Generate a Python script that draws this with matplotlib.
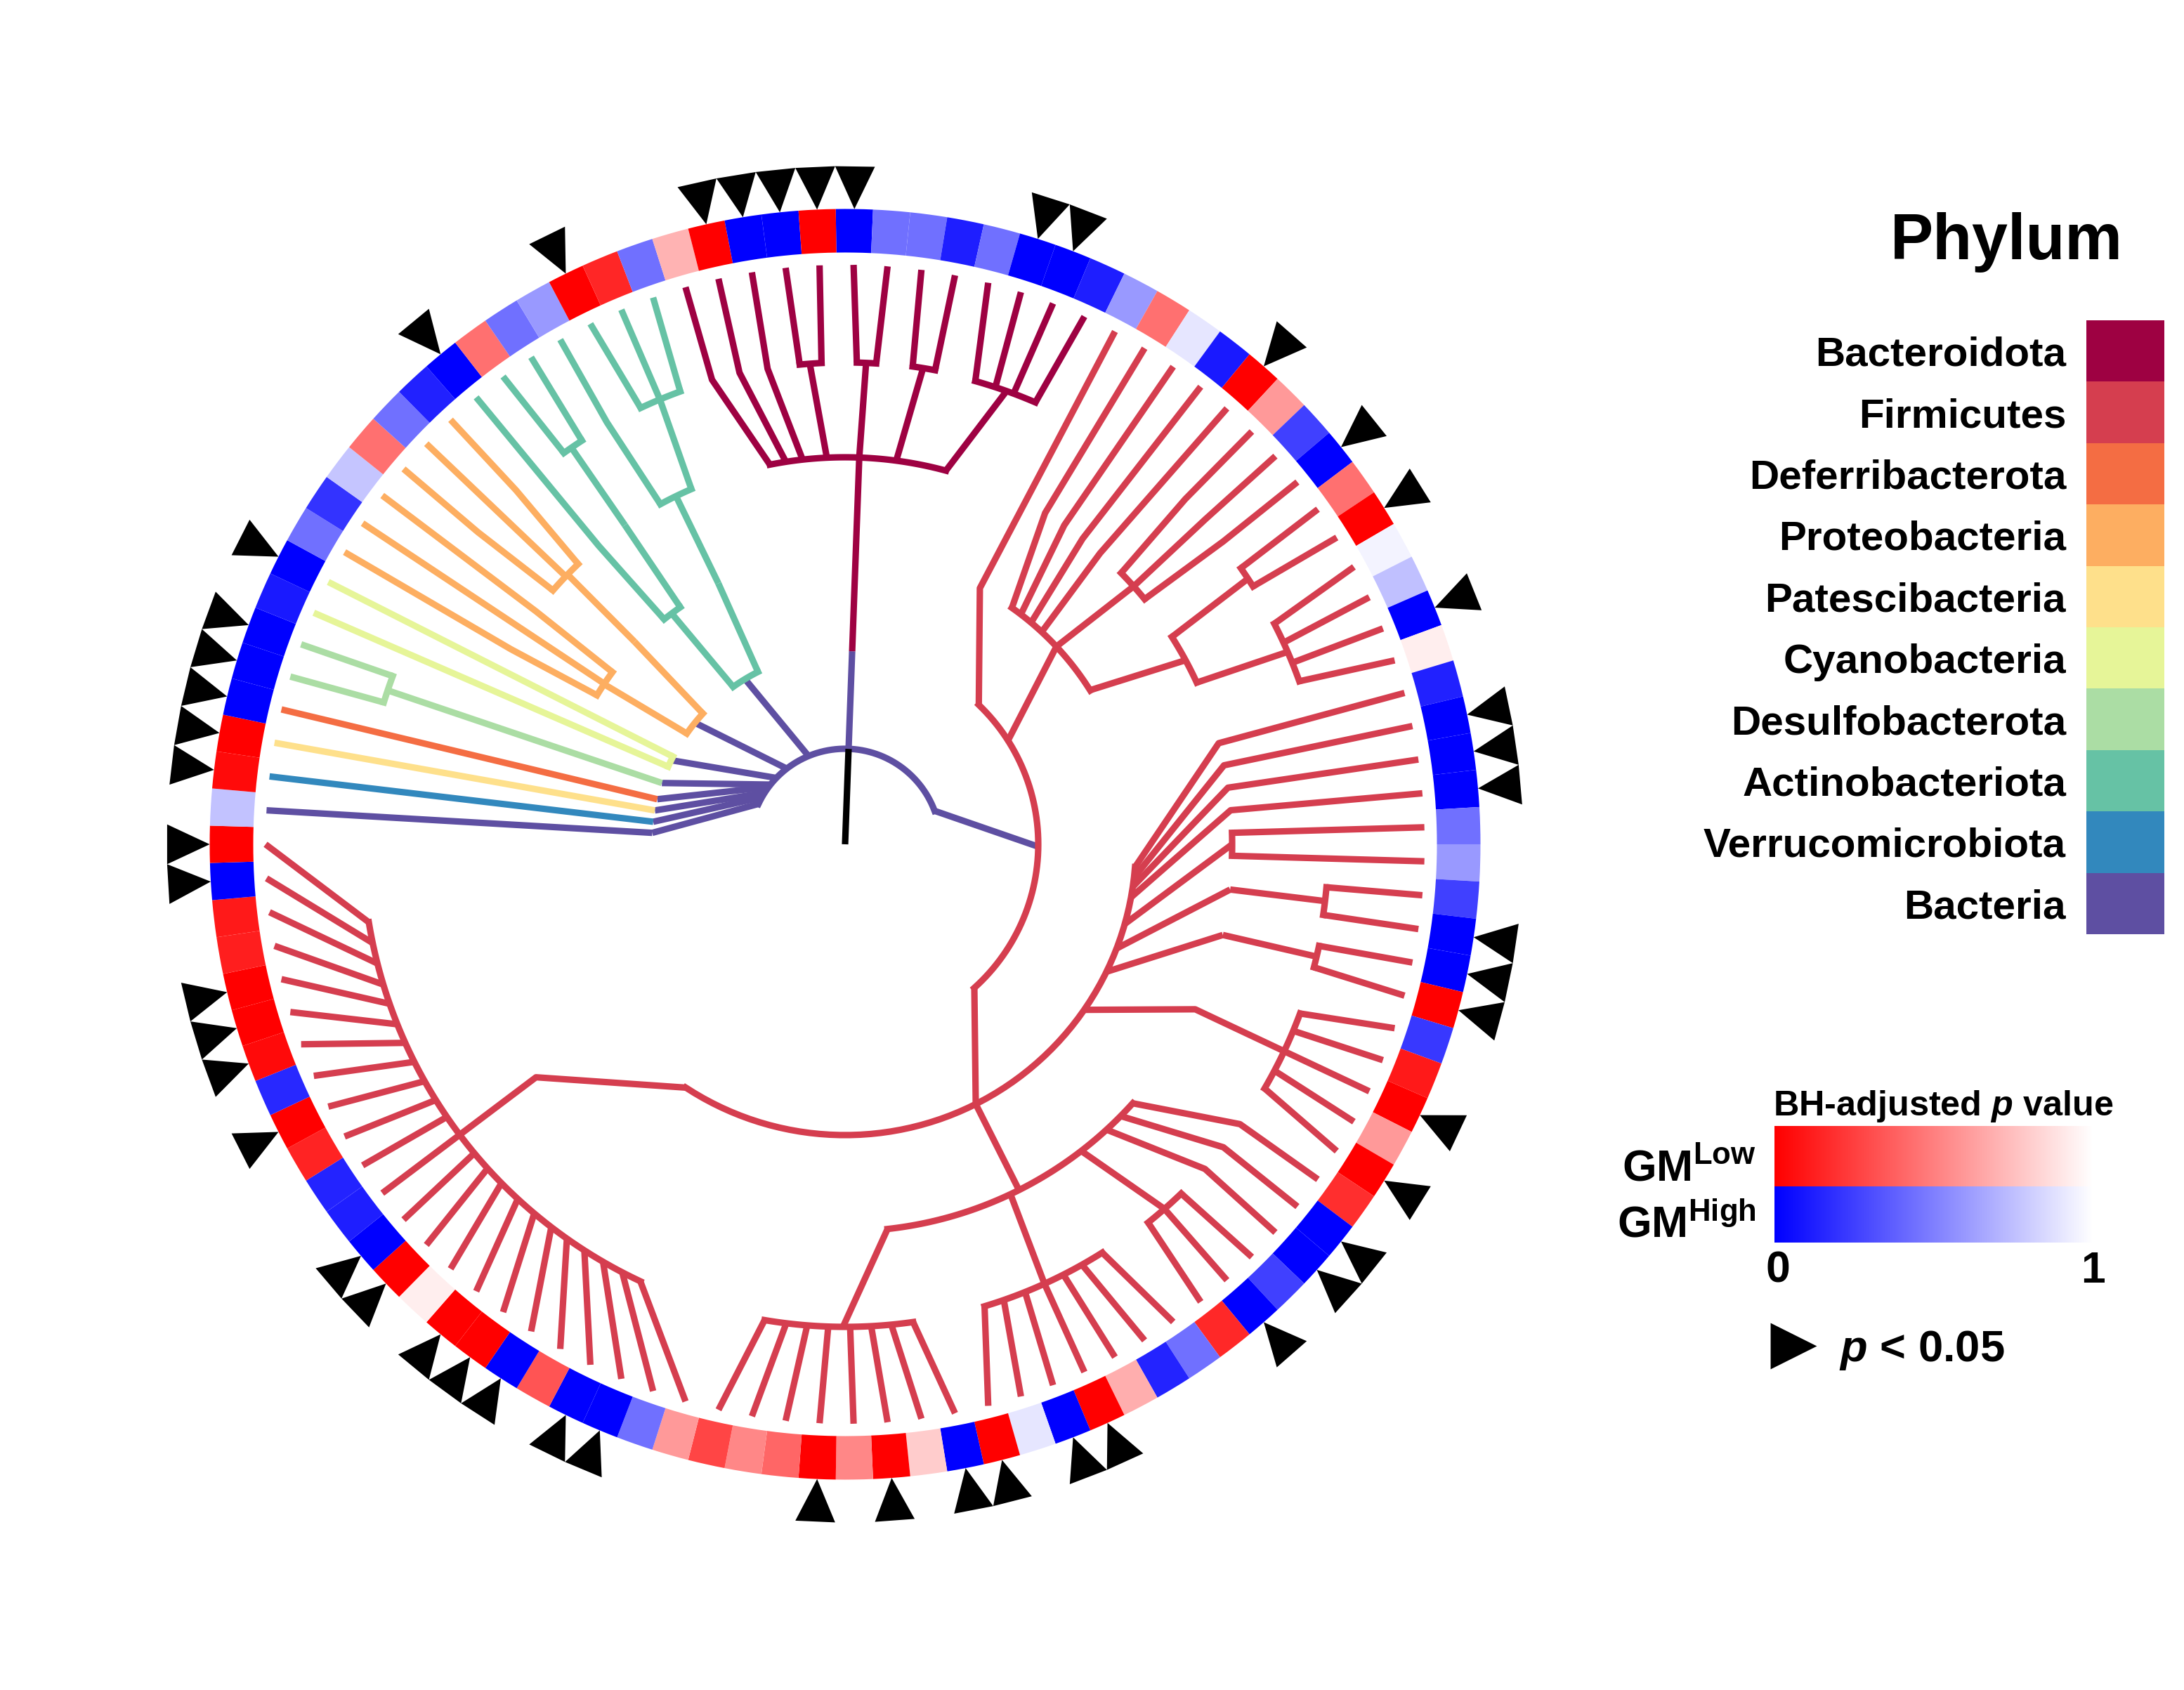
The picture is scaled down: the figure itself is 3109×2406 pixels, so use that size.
import numpy as np
import matplotlib
matplotlib.use("Agg")
import matplotlib.pyplot as plt
from matplotlib.colors import LinearSegmentedColormap

plt.rcParams["font.family"] = ["Liberation Sans", "DejaVu Sans"]
plt.rcParams["font.weight"] = "bold"
plt.rcParams["mathtext.fontset"] = "custom"
plt.rcParams["mathtext.rm"] = "Liberation Sans:bold"
plt.rcParams["mathtext.it"] = "Liberation Sans:italic:bold"
plt.rcParams["mathtext.bf"] = "Liberation Sans:bold"

phyla = ["Bacteroidota", "Firmicutes", "Deferribacterota", "Proteobacteria",
         "Patescibacteria", "Cyanobacteria", "Desulfobacterota",
         "Actinobacteriota", "Verrucomicrobiota", "Bacteria"]
phylum_colors = ["#9E0142", "#D53E4F", "#F46D43", "#FDAE61", "#FEE08B",
                 "#E6F598", "#ABDDA4", "#66C2A5", "#3288BD", "#5E4FA2"]

# ring: BH adjusted p per tip, clockwise from the top, R = GM low, B = GM high
ring_group = list("BBBBBBBBBR" "BBRRBBRRBB" "BRBBBBBBBB" "BRBRRRRRBB" "BBRBBRRBBR"
                  "BRRRRRRRRB" "BBRBRRRRBB" "BRRBRRRRRB" "RBRRBBBBBB" "BBRBBBRBBR"
                  "RBRRBBR")
ring_p = [0, .44, .44, .12, .44, 0, 0, .12, .6, .44,
          .9, .1, 0, .6, .25, 0, .44, 0, .95, .75,
          0, .93, .13, 0, 0, 0, .44, .6, .25, 0,
          0, 0, .22, .1, 0, .6, 0, .18, 0, 0,
          .25, 0, .16, .44, .14, .68, 0, 0, .9, 0,
          0, .8, 0, .53, 0, .4, .53, .27, .6, .44,
          0, 0, .33, 0, 0, 0, .93, 0, 0, .12,
          .14, .14, 0, .16, .04, 0, 0, .12, .1, 0,
          0, .76, .04, 0, 0, 0, 0, .1, 0, .44,
          .2, .77, .44, .44, .13, 0, .44, .44, .6, 0,
          .15, .44, .7, 0, 0, 0, 0]
significant = [0, 5, 6, 12, 15, 17, 20, 23, 24, 25, 29, 30, 31, 34, 36, 38, 39,
               41, 46, 47, 49, 50, 52, 54, 60, 61, 63, 64, 65, 67, 68, 72, 74,
               75, 76, 79, 80, 82, 83, 84, 85, 86, 88, 95, 99, 103, 104, 105, 106]

# tree: radius in tree units, angle in degrees clockwise from top
# arcs: (radius, from, to)   edges: (r0, a0, r1, a1)
# tips: (tip, node radius, node angle, elbow radius or None)
root_stem = [("black", 0, 136), ("#5E4FA2", 136, 275), ("#9E0142", 275, 551)]
root_angle = 2.1

bacteria_arcs = [(136, 295, 429.5)]
bacteria_edges = [(136, 295, 275, 273.4), (136, 299.5, 275, 276.7), (136, 302.6, 275, 280.1),
                  (136, 306.8, 275, 283.5), (136, 308.7, 275, 288.5), (136, 314, 275, 295.8),
                  (136, 322.4, 275, 309), (136, 337.5, 275, 328.8), (136, 69.5, 275, 90.7)]
bacteria_tips = [(81, 275, 273.4, None)]
verruco_tips = [(82, 275, 276.7, None)]
patesci_tips = [(83, 275, 280.1, None)]
deferri_tips = [(84, 275, 283.5, None)]

desulfo_arcs = [(687, 287.1, 290.4)]
desulfo_edges = [(275, 288.5, 687, 288.6)]
desulfo_tips = [(85, 687, 287.1, None), (86, 687, 290.4, None)]

cyano_arcs = [(275, 293.7, 297)]
cyano_tips = [(87, 275, 293.7, None), (88, 275, 297, None)]

proteo_arcs = [(275, 305, 312.6), (412, 301, 306.5), (551, 311, 316.4)]
proteo_edges = [(275, 305, 412, 303.6), (275, 312.6, 416, 313.9), (416, 313.9, 551, 314.2)]
proteo_tips = [(89, 412, 301, 551), (90, 412, 303.7, None), (91, 412, 306.5, 551),
               (92, 551, 311, 686), (93, 551, 313.8, None), (94, 551, 316.4, 688)]

actino_arcs = [(275, 324.6, 333.2), (551, 331.5, 336.6), (686, 334.9, 340),
               (411, 321.2, 325.2), (686, 324.3, 326.9)]
actino_edges = [(275, 333.2, 413, 334.1), (413, 334.1, 551, 334.1), (551, 336.6, 686, 337.4),
                (275, 324.6, 411, 323.1), (411, 325.2, 552, 325.4), (552, 325.4, 686, 325.4)]
actino_tips = [(95, 411, 321.2, 551), (96, 686, 324.3, None), (97, 686, 326.9, None),
               (98, 551, 331.5, 690), (99, 686, 334.9, None), (100, 686, 337.4, None),
               (101, 686, 340, None)]

bactero_arcs = [(551, 348.8, 375.1), (686, 354.6, 357.2), (686, 361.4, 363.7),
                (687, 368.05, 370.75), (685, 375.7, 383.3)]
bactero_edges = [(551, 357.3, 686, 355.8), (551, 362.1, 686, 362.5),
                 (551, 367.6, 687, 369.3), (551, 375.1, 685, 379.6)]
bactero_tips = [(102, 551, 348.8, 688), (103, 551, 351.2, 688), (104, 551, 353.7, 686),
                (105, 686, 354.6, None), (106, 686, 357.2, None), (0, 686, 1.4, None),
                (1, 686, 3.7, None), (2, 687, 8.05, None), (3, 687, 10.75, None),
                (4, 685, 15.7, None), (5, 685, 18.2, None), (6, 685, 20.5, None),
                (7, 685, 23.3, None)]

firmi_arcs = [(275, 43.8, 138), (412, 35.2, 57.9), (551, 45.5, 50.7), (551, 57.6, 65.3),
              (687, 55.1, 57.7), (687, 62.8, 70.25), (414, 94.5, 213.2), (551, 88.3, 91.7),
              (688, 95.1, 98.4), (690, 102.1, 104.7), (691, 110.4, 120.2), (551, 132, 173.7),
              (690, 136.1, 141.3), (687, 147.8, 163.2), (687, 171.9, 189.6), (687, 205.1, 260.7)]
firmi_edges = [(275, 57.5, 412, 46.9), (412, 46.9, 551, 48.2), (414, 57.9, 551, 61.6),
               (551, 57.6, 687, 56.6), (551, 65.3, 687, 66.5), (275, 138, 414, 153.3),
               (414, 105.9, 551, 90), (414, 111, 552, 96.7), (552, 96.7, 688, 96.75),
               (414, 116, 553, 103.5), (553, 103.5, 690, 103.4), (414, 153.3, 551, 153.3),
               (551, 154.7, 687, 155.6), (551, 173.7, 687, 180.25)]
firmi_tips = [(8, 275, 43.8, 412), (9, 412, 35.2, 551), (10, 412, 37.4, 551), (11, 412, 40, 551),
              (12, 412, 42.8, 551), (13, 551, 45.5, 690), (14, 551, 48.2, 690), (15, 551, 50.7, 690),
              (16, 687, 55.1, None), (17, 687, 57.7, None), (18, 687, 62.8, None), (19, 687, 65.3, None),
              (20, 687, 67.9, None), (21, 687, 70.25, None), (22, 414, 94.5, 551), (23, 414, 96.6, 551),
              (24, 414, 98.4, 551), (25, 414, 100.5, 551), (26, 551, 88.3, None), (27, 551, 91.7, None),
              (28, 688, 95.1, None), (29, 688, 98.4, None), (30, 690, 102.1, None), (31, 690, 104.7, None),
              (32, 691, 110.4, None), (33, 691, 112.6, None), (34, 414, 124.7, 551), (35, 691, 117.8, None),
              (36, 691, 120.2, None), (37, 551, 132, 689), (38, 551, 134.6, 690), (39, 551, 137.5, 690),
              (40, 690, 136.1, None), (41, 551, 142.4, 690), (42, 690, 141.3, None), (43, 687, 147.8, None),
              (44, 687, 150.6, None), (45, 687, 153.1, None), (46, 687, 155.6, None), (47, 687, 158.1, None),
              (48, 687, 160.8, None), (49, 687, 163.2, None), (50, 687, 171.9, None), (51, 687, 174.5, None),
              (52, 687, 176.9, None), (53, 687, 179.4, None), (54, 687, 182, None), (55, 687, 184.5, None),
              (56, 687, 187, None), (57, 687, 189.6, None), (58, 687, 205.1, None), (59, 687, 207.5, None),
              (60, 687, 210.1, None), (61, 687, 212.7, None), (62, 687, 215.2, None), (63, 687, 217.5, None),
              (64, 687, 220.1, None), (65, 687, 222.7, None), (66, 687, 225.4, None), (67, 687, 227.8, None),
              (68, 687, 230.2, None), (69, 414, 213.2, 551), (70, 687, 235.6, None), (71, 687, 238, None),
              (72, 687, 240.6, None), (73, 687, 243.2, None), (74, 687, 245.7, None), (75, 687, 248.1, None),
              (76, 687, 250.7, None), (77, 687, 253.1, None), (78, 687, 255.7, None), (79, 687, 258.2, None),
              (80, 687, 260.7, None)]

clades = [("#5E4FA2", bacteria_arcs, bacteria_edges, bacteria_tips),
          ("#3288BD", [], [], verruco_tips),
          ("#FEE08B", [], [], patesci_tips),
          ("#F46D43", [], [], deferri_tips),
          ("#ABDDA4", desulfo_arcs, desulfo_edges, desulfo_tips),
          ("#E6F598", cyano_arcs, [], cyano_tips),
          ("#FDAE61", proteo_arcs, proteo_edges, proteo_tips),
          ("#66C2A5", actino_arcs, actino_edges, actino_tips),
          ("#D53E4F", firmi_arcs, firmi_edges, firmi_tips),
          ("#9E0142", bactero_arcs, bactero_edges, bactero_tips)]

W, H = 3109, 2406
N_TIPS = len(ring_p)
STEP = 360 / N_TIPS
TIP_R = 825
LW = 2.2


def tip_angle(tip):
    return tip * STEP + 0.84


def draw_clade(ax, color, arcs, edges, tips):
    for r, a0, a1 in arcs:
        th = np.radians(np.linspace(a0, a1, 60))
        ax.plot(th, np.full(th.size, r), color=color, lw=LW, solid_capstyle="projecting", clip_on=False)
    for r0, a0, r1, a1 in edges:
        ax.plot(np.radians([a0, a1]), [r0, r1], color=color, lw=LW, solid_capstyle="butt", clip_on=False)
    for tip, node_r, node_a, elbow in tips:
        a = tip_angle(tip)
        if elbow is None:
            th, rr = [node_a, a], [node_r, TIP_R]
        else:
            th, rr = [node_a, a, a], [node_r, elbow, TIP_R]
        ax.plot(np.radians(th), rr, color=color, lw=LW, solid_capstyle="butt",
                solid_joinstyle="round", clip_on=False)


def main():
    fig = plt.figure(figsize=(W / 300, H / 300), dpi=300)

    reds = LinearSegmentedColormap.from_list("reds", ["#FF0000", "#FFFFFF"])
    blues = LinearSegmentedColormap.from_list("blues", ["#0000FF", "#FFFFFF"])

    # polar panel, 1 radius unit is one pixel
    cx, cy, rmax = 1203, 1202, 1000
    ax = fig.add_axes([(cx - rmax) / W, (H - cy - rmax) / H, 2 * rmax / W, 2 * rmax / H],
                      projection="polar")
    ax.set_theta_zero_location("N")
    ax.set_theta_direction(-1)

    ring_angles = np.radians([tip_angle(i) for i in range(N_TIPS)])
    ring_colors = [reds(p) if g == "R" else blues(p) for g, p in zip(ring_group, ring_p)]
    ax.bar(ring_angles, 62, width=np.radians(STEP), bottom=842.5, color=ring_colors, linewidth=0)

    for tip in significant:
        a = tip_angle(tip)
        ax.fill(np.radians([a, a - STEP / 2, a + STEP / 2]), [904.5, 965.5, 965.5],
                color="black", linewidth=0, clip_on=False)

    for color, arcs, edges, tips in clades:
        draw_clade(ax, color, arcs, edges, tips)
    for color, r0, r1 in root_stem:
        ax.plot(np.radians([root_angle, root_angle]), [r0, r1], color=color, lw=LW,
                solid_capstyle="butt", clip_on=False)

    ax.set_xlim(0, 2 * np.pi)
    ax.set_ylim(0, rmax)
    ax.axis("off")

    # legends, in picture pixels
    lax = fig.add_axes([0, 0, 1, 1])
    lax.patch.set_visible(False)

    lax.text(3022, 369, "Phylum", ha="right", va="baseline", fontsize=22)
    sw_top, sw_h = 456, 87.4
    for i, (name, color) in enumerate(zip(phyla, phylum_colors)):
        lax.bar(3025, sw_h, width=111, bottom=sw_top + i * sw_h, color=color, linewidth=0)
        lax.text(2941, sw_top + (i + 0.5) * sw_h + 21, name, ha="right", va="baseline", fontsize=14)

    grad = np.linspace(0, 1, 256).reshape(1, -1)
    lax.imshow(grad, cmap=reds, extent=[2526, 2979, 1689, 1603.5], aspect="auto", interpolation="bilinear")
    lax.imshow(grad, cmap=blues, extent=[2526, 2979, 1769, 1689], aspect="auto", interpolation="bilinear")
    lax.text(2524, 1588, r"BH-adjusted $\mathit{p}$ value", ha="left", va="baseline", fontsize=12.1)
    lax.text(2500, 1681, r"GM$^{\mathrm{Low}}$", ha="right", va="baseline", fontsize=15)
    lax.text(2500, 1761, r"GM$^{\mathrm{High}}$", ha="right", va="baseline", fontsize=15)
    lax.text(2531, 1826, "0", ha="center", va="baseline", fontsize=15)
    lax.text(2979, 1826, "1", ha="center", va="baseline", fontsize=15)

    lax.scatter([2553], [1916], marker=">", s=250, color="black", linewidth=0)
    lax.text(2618, 1938, r"$\mathit{p}$ < 0.05", ha="left", va="baseline", fontsize=15.2)

    lax.set_xlim(0, W)
    lax.set_ylim(H, 0)
    lax.axis("off")

    fig.savefig("out.png", dpi=300, facecolor="white")


if __name__ == "__main__":
    main()
